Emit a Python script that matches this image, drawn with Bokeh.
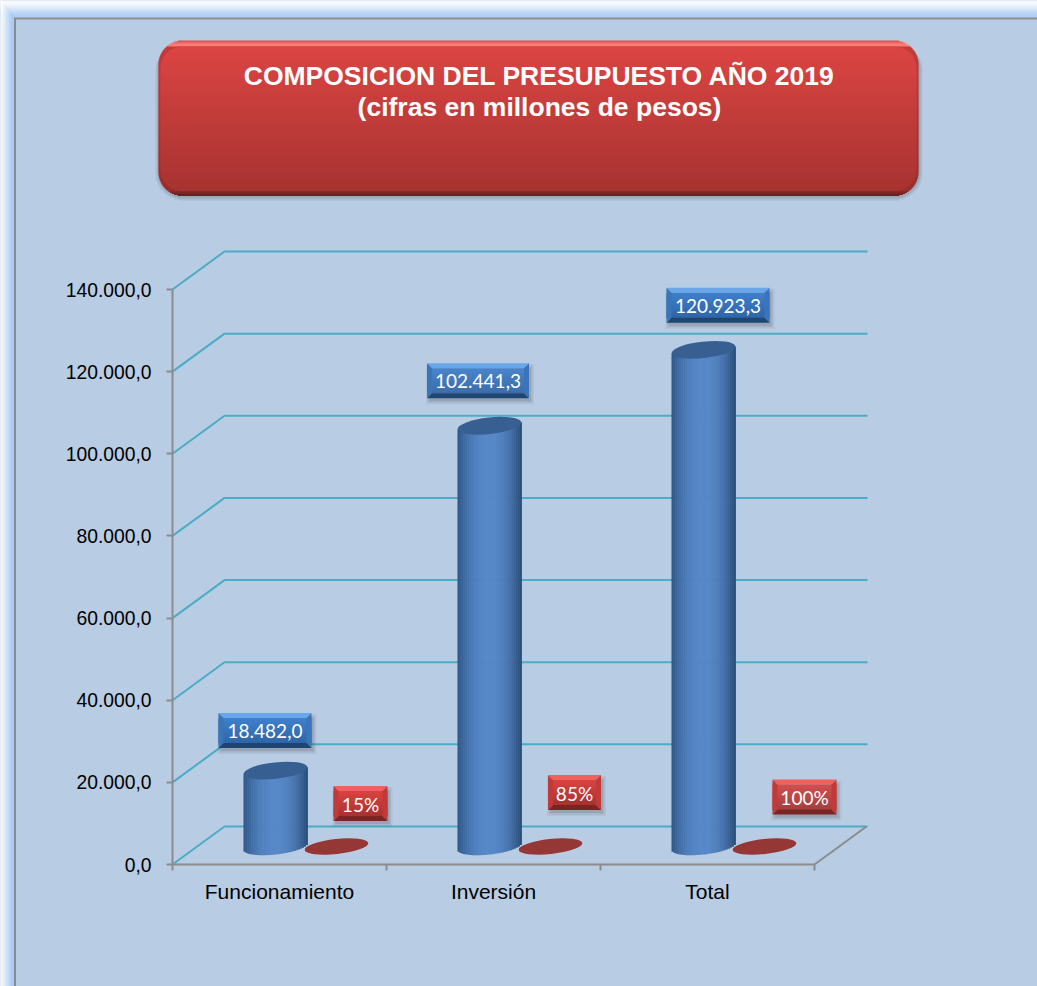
from math import sqrt, atan
from bokeh.plotting import figure
from bokeh.models import FixedTicker, Range1d
from bokeh.core.properties import value
from bokeh.embed import file_html
from bokeh.resources import INLINE

# ---- data ----
categories = ["Funcionamiento", "Inversión", "Total"]
budget = [18482.0, 102441.3, 120923.3]
shares = [0.15, 0.85, 1.00]
y_ticks = [0, 20000, 40000, 60000, 80000, 100000, 120000, 140000]
title_lines = ["COMPOSICION DEL PRESUPUESTO AÑO 2019", "(cifras en millones de pesos)"]

# ---- layout (reference pixels) ----
W, H = 1037, 986
AX_L, AX_B = 172, 864          # origin of the axes
CAT_PX = 214                   # one category, in px
VAL_PX = 575 / 140000          # px per unit of value
DEPTH_X, DEPTH_Y = 52, 38      # 3D depth of the wall
PANEL = "#b8cce4"
GRID = "#4bacc6"
AXIS = "#8c8c8c"


def X(px):
    return (px - AX_L) / CAT_PX


def Y(py):
    return (AX_B - py) / VAL_PX


def es(v):
    return f"{v:,.1f}".replace(",", "_").replace(".", ",").replace("_", ".")


def mix(a, b, t):
    t = max(0.0, min(1.0, t))
    ca = [int(a[i:i + 2], 16) for i in (1, 3, 5)]
    cb = [int(b[i:i + 2], 16) for i in (1, 3, 5)]
    return "#%02x%02x%02x" % tuple(round(x + (y - x) * t) for x, y in zip(ca, cb))


p = figure(
    width=W, height=H, output_backend="svg", toolbar_location=None,
    x_range=Range1d(X(0), X(W)), y_range=Range1d(Y(H), Y(0)),
    min_border=0,
    background_fill_color=PANEL, border_fill_color=PANEL, outline_line_color=None,
)
p.grid.visible = False

# axes
ya = p.yaxis[0]
ya.fixed_location = 0
ya.ticker = FixedTicker(ticks=y_ticks)
ya.major_label_overrides = {t: es(t) for t in y_ticks}
ya.bounds = (0, 140000)
ya.axis_line_color = AXIS
ya.axis_line_width = 2
ya.major_tick_line_color = AXIS
ya.major_tick_line_width = 2
ya.major_tick_in = 0
ya.major_tick_out = 6
ya.minor_tick_in = 0
ya.minor_tick_out = 0
ya.major_label_standoff = 15
ya.major_label_text_font = "Liberation Sans"
ya.major_label_text_font_size = "19.3px"
ya.major_label_text_color = "#000000"

xa = p.xaxis[0]
xa.fixed_location = 0
xa.ticker = FixedTicker(ticks=[i + 0.5 for i in range(3)], minor_ticks=list(range(4)))
xa.major_label_overrides = {i + 0.5: c for i, c in enumerate(categories)}
xa.bounds = (0, 3)
xa.axis_line_color = AXIS
xa.axis_line_width = 2
xa.major_tick_in = 0
xa.major_tick_out = 0
xa.minor_tick_line_color = AXIS
xa.minor_tick_line_width = 2
xa.minor_tick_in = 0
xa.minor_tick_out = 6
xa.major_label_standoff = 9
xa.major_label_text_font = "Liberation Sans"
xa.major_label_text_font_size = "21px"
xa.major_label_text_color = "#000000"


def box(l, r, t, b, color, alpha=1.0):
    p.quad(left=[X(l)], right=[X(r)], top=[Y(t)], bottom=[Y(b)],
           fill_color=color, fill_alpha=alpha, line_color=None)


# panel edge: white outer edge fading into a soft blue glow, then the grey frame
GLOW_X, GLOW_Y = 14, 17
for k in range(GLOW_Y):
    box(0, W, k, k + 1.2, mix("#ffffff", "#b0cff7", (k - 3) / (GLOW_Y - 6)))
for k in range(GLOW_X):
    box(k, k + 1.2, k * GLOW_Y / GLOW_X, H, mix("#ffffff", "#a8cbf6", (k - 1) / (GLOW_X - 4)))
box(13.5, 15.5, 17.5, H, AXIS)
box(13.5, W, 17, 19, AXIS)

# title box
TB_L, TB_R, TB_T, TB_B, TB_R0 = 158, 918, 40, 195, 24


def title_rows(l, r, t, b, rad, step=1):
    rows = []
    py = t
    while py < b:
        d = max(t + rad - py - step / 2, py + step / 2 - (b - rad), 0)
        inset = rad - sqrt(max(0, rad ** 2 - d ** 2))
        rows.append((py, l + inset, r - inset))
        py += step
    return rows


def paint_rows(rows, cols, alpha=1.0, over=1.4):
    p.quad(left=[X(r[1]) for r in rows], right=[X(r[2]) for r in rows],
           top=[Y(r[0]) for r in rows], bottom=[Y(r[0] + over) for r in rows],
           fill_color=cols, fill_alpha=alpha, line_color=None)


for g, a in ((4, 0.10), (2, 0.16)):
    rows = title_rows(TB_L - g + 1, TB_R + g, TB_T + 2, TB_B + g + 1, TB_R0 + g)
    paint_rows(rows, "#404040", a, 1)


def face_col(py):
    return mix("#db4543", "#a73331", (py - TB_T - 6) / (TB_B - TB_T - 11))


# bevel ring, then the face inset in it
rows = title_rows(TB_L, TB_R, TB_T, TB_B, TB_R0)
cols = []
for py, _, _ in rows:
    if py < TB_T + 6:
        cols.append(mix("#d9504e", "#fb7c76", (py - TB_T) / 3))
    elif py >= TB_B - 5:
        cols.append(mix("#8d2a28", "#6b1f1d", (py - (TB_B - 5)) / 4))
    else:
        cols.append(mix(face_col(py), "#6b1f1d", 0.22))
paint_rows(rows, cols)
face = title_rows(TB_L + 2, TB_R - 2, TB_T + 6, TB_B - 5, TB_R0 - 2)
paint_rows(face, [face_col(r[0]) for r in face])

for line, py in zip(title_lines, (75, 106)):
    p.text([X(539)], [Y(py)], text=[line], text_align="center", text_baseline="middle",
           text_color="#ffffff", text_font=value("Liberation Sans"), text_font_style="bold",
           text_font_size="26.5px")

# 3D wall gridlines
ddx, ddy = DEPTH_X / CAT_PX, DEPTH_Y / VAL_PX
right_end = X(867)
p.multi_line(
    [[0, ddx, right_end] for _ in y_ticks],
    [[t, t + ddy, t + ddy] for t in y_ticks],
    line_color=GRID, line_width=2,
)
p.line([3, 3 + ddx], [0, ddy], line_color=AXIS, line_width=2)

# cylinders
BASE_LIFT = 18
CYL_W, CYL_HH, CYL_TILT = 64, 8, 3.5
CYL_SHIFT = -4
STRIPS = 32
angle = atan(CYL_TILT / (CYL_W / 2))
for i, v in enumerate(budget):
    cx = AX_L + (i + 0.5) * CAT_PX + CYL_SHIFT
    base = AX_B - BASE_LIFT
    top = base - v * VAL_PX
    ls, rs, ts, bs, cs = [], [], [], [], []
    for s in range(STRIPS):
        u0 = -1 + 2 * s / STRIPS
        u1 = u0 + 2 / STRIPS
        u = (u0 + u1) / 2
        ls.append(X(cx + u0 * CYL_W / 2))
        rs.append(X(cx + u1 * CYL_W / 2 + 0.4))
        ts.append(Y(top - CYL_TILT * u))
        bs.append(Y(base - CYL_TILT * u + CYL_HH * sqrt(max(0, 1 - u * u))))
        edge = "#2d5484" if u < 0 else "#274a75"
        cs.append(mix("#5586c6", edge, abs(u) ** 2.2))
    p.quad(left=ls, right=rs, top=ts, bottom=bs, fill_color=cs, line_color=None)
    p.ellipse(x=[X(cx)], y=[Y(top)], width=CYL_W, height=CYL_HH * 2 + 0.5, angle=angle,
              width_units="screen", height_units="screen",
              fill_color="#375f92", line_color=None)

# flat red series
for i, s in enumerate(shares):
    cx = AX_L + (i + 0.5) * CAT_PX + 57
    p.ellipse(x=[X(cx)], y=[Y(AX_B - BASE_LIFT)], width=CYL_W, height=CYL_HH * 2 - 1,
              angle=angle, width_units="screen", height_units="screen",
              fill_color="#953735", line_color=None)


def bevel_label(text, cx, cy, w, h, light, face_top, face_bot, side, dark):
    l, r, t, b = cx - w / 2, cx + w / 2, cy - h / 2, cy + h / 2
    for grow, alpha in ((4, 0.07), (2.5, 0.10), (1, 0.14)):
        box(l + 3 - grow, r + grow + 1, t + 5 - grow, b + grow + 2, "#404040", alpha)
    bev = 5
    n = int(h - 2 * bev)
    for k in range(n):
        box(l, r, t + bev + k, t + bev + k + 1.3, mix(face_top, face_bot, k / max(1, n - 1)))
    p.patch([X(l), X(r), X(r - bev), X(l + bev)], [Y(t), Y(t), Y(t + bev), Y(t + bev)],
            fill_color=light, line_color=None)
    p.patch([X(l), X(l + bev), X(l + bev), X(l)], [Y(t), Y(t + bev), Y(b - bev), Y(b)],
            fill_color=side, line_color=None)
    p.patch([X(r), X(r - bev), X(r - bev), X(r)], [Y(t), Y(t + bev), Y(b - bev), Y(b)],
            fill_color=side, line_color=None)
    p.patch([X(l), X(r), X(r - bev), X(l + bev)], [Y(b), Y(b), Y(b - bev), Y(b - bev)],
            fill_color=dark, line_color=None)
    p.text([X(cx)], [Y(cy + 0.5)], text=[text], text_align="center", text_baseline="middle",
           text_color="#ffffff", text_font=value("Lato"), text_font_size="19px")


# value labels: offset from the category centre / value height (px), box size (px)
blue_pos = [(-14.5, -58, 93), (-15.5, -63, 102), (10.5, -62.5, 103)]
for i, v in enumerate(budget):
    dx, dy, w = blue_pos[i]
    cx = AX_L + (i + 0.5) * CAT_PX + dx
    cy = AX_B - v * VAL_PX + dy
    bevel_label(es(v), cx, cy, w, 35, "#6aa6ea", "#3f7fcd", "#2f66a8", "#3a75ba", "#1f4670")

red_pos = [(81, 803, 54), (81, 792, 53), (97, 796.5, 64)]
for i, s in enumerate(shares):
    dx, cy, w = red_pos[i]
    cx = AX_L + (i + 0.5) * CAT_PX + dx
    bevel_label(f"{round(s * 100)}%", cx, cy, w, 35, "#f0605c", "#d84340", "#a83230", "#bf3a38", "#7a2523")

open("out.html", "w").write(file_html(p, INLINE))
